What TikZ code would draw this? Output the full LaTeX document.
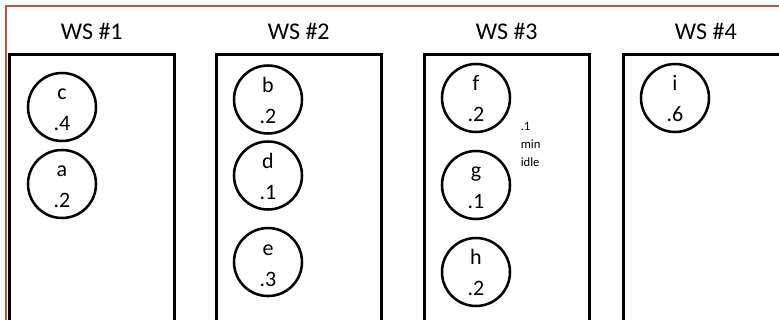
\documentclass[tikz,border=0pt]{standalone}
\usepackage{fontspec}
\setmainfont{Carlito}
\usepackage{xcolor}
\usepackage{tikz}
\usetikzlibrary{positioning}
\definecolor{framered}{HTML}{C0504D}
\newcommand\tstrut{\rule[-3pt]{0pt}{18.75pt}}  % same height for every line in a task

\begin{document}
\begin{tikzpicture}[
    x = 0.75pt, y = -0.75pt,
    node distance = 12.35pt,
    station/.style = {
        draw, rectangle, line width=2.25pt, anchor=north west,
        inner sep=0pt, outer sep=0pt,
        minimum width=123.4pt, minimum height=210pt
    },
    wsname/.style = {anchor=base, font=\fontsize{18}{22}\selectfont},
    task/.style = {
        draw, circle, line width=1.9pt, minimum size=51pt, inner sep=0pt,
        align=center, font=\fontsize{16.5}{23.25}\selectfont
    },
    note/.style = {anchor=north west, align=left, inner sep=0pt,
        font=\fontsize{9.5}{13.5}\selectfont}
  ]
    \path[use as bounding box, clip] (0,0) rectangle (779,320);
    \draw[framered, line width=1.5pt] (6,6) rectangle (800,340);  % outer frame

    % work stations
    \node[station] (ws1) at (9.5,55) {};
    \node[station] (ws2) at (216.5,55) {};
    \node[station] (ws3) at (424.5,55) {};
    \node[station] (ws4) at (623.5,55) {};
    \foreach \i in {1,...,4}
        \node[wsname] (ws\i-name) at ([yshift=11.25pt]ws\i.north) {WS \#\i};

    % WS #1
    \node[task] (c) at (62,107) {\tstrut c\\\tstrut .4};
    \node[task, below=4.85pt of c] (a) {\tstrut a\\\tstrut .2};

    % WS #2
    \node[task] (b) at (268,99.5) {\tstrut b\\\tstrut .2};
    \node[task, below=4.1pt of b] (d) {\tstrut d\\\tstrut .1};
    \node[task, below=12pt of d] (e) {\tstrut e\\\tstrut .3};

    % WS #3
    \node[task] (f) at (476,98) {\tstrut f\\\tstrut .2};
    \node[task, below=of f] (g) {\tstrut g\\\tstrut .1};
    \node[task, below=of g] (h) {\tstrut h\\\tstrut .2};
    \node[note] (idle) at (520.5,122.5) {.1\\min\\idle};

    % WS #4
    \node[task] (i) at (675,98) {\tstrut i\\\tstrut .6};
\end{tikzpicture}
\end{document}
